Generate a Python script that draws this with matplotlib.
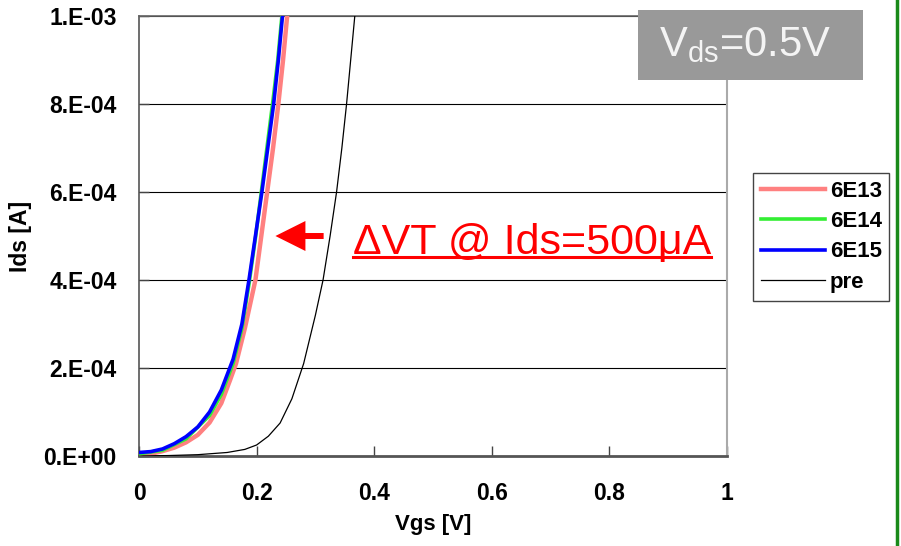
import matplotlib
matplotlib.use("Agg")
import matplotlib.pyplot as plt
from matplotlib.patches import Rectangle
from matplotlib.lines import Line2D

plt.rcParams['font.family'] = ['Liberation Sans', 'DejaVu Sans']
plt.rcParams['mathtext.fontset'] = 'custom'
plt.rcParams['mathtext.rm'] = 'Liberation Sans'
plt.rcParams['mathtext.it'] = 'Liberation Sans'

# Id-Vg curves (Vgs in V, Ids in A)
vg_6e13 = [0.000, 0.020, 0.040, 0.060, 0.080, 0.100, 0.120, 0.140, 0.155, 0.165, 0.180,
           0.198, 0.208, 0.218, 0.228, 0.237, 0.245, 0.252]
id_6e13 = [2e-6, 5e-6, 1.1e-5, 1.9e-5, 3.1e-5, 4.8e-5, 7.6e-5, 1.2e-4, 1.73e-4, 2.1e-4, 2.9e-4,
           4.0e-4, 5.0e-4, 6.0e-4, 7.0e-4, 8.0e-4, 9.0e-4, 1.0e-3]

vg_6e14 = [0.000, 0.040, 0.080, 0.120, 0.140, 0.160, 0.175, 0.187, 0.198, 0.208, 0.218,
           0.228, 0.236, 0.243]
id_6e14 = [5e-6, 1.3e-5, 3.9e-5, 9.2e-5, 1.4e-4, 2.1e-4, 2.9e-4, 3.9e-4, 4.95e-4, 6.0e-4, 7.05e-4,
           8.1e-4, 9.0e-4, 1.0e-3]

vg_6e15 = [0.000, 0.020, 0.040, 0.060, 0.080, 0.100, 0.120, 0.140, 0.160, 0.175, 0.187,
           0.198, 0.209, 0.219, 0.229, 0.237, 0.244]
id_6e15 = [8e-6, 1.0e-5, 1.6e-5, 2.8e-5, 4.4e-5, 6.6e-5, 1.0e-4, 1.5e-4, 2.2e-4, 3.0e-4, 4.0e-4,
           5.0e-4, 6.0e-4, 7.0e-4, 8.0e-4, 9.0e-4, 1.0e-3]

vg_pre = [0.000, 0.050, 0.100, 0.150, 0.180, 0.200, 0.220, 0.240, 0.260, 0.280, 0.300,
          0.313, 0.325, 0.336, 0.345, 0.353, 0.360, 0.367]
id_pre = [0, 1e-6, 3e-6, 8e-6, 1.5e-5, 2.5e-5, 4.5e-5, 7.5e-5, 1.3e-4, 2.1e-4, 3.2e-4,
          4.0e-4, 5.0e-4, 6.0e-4, 7.0e-4, 8.0e-4, 9.0e-4, 1.0e-3]

x_ticks = [0, 0.2, 0.4, 0.6, 0.8, 1]
x_ticklabels = ['0', '0.2', '0.4', '0.6', '0.8', '1']
y_ticks = [0, 2e-4, 4e-4, 6e-4, 8e-4, 1e-3]
y_ticklabels = ['0.E+00', '2.E-04', '4.E-04', '6.E-04', '8.E-04', '1.E-03']

target_id = 5e-4

fig = plt.figure(figsize=(9.01, 5.46), dpi=100)
ax = fig.add_axes([139 / 901, 90 / 546, 588 / 901, 440 / 546])

ax.plot(vg_6e13, id_6e13, color='#ff8080', lw=3.2, label='6E13', zorder=3)
ax.plot(vg_6e14, id_6e14, color='#33ee33', lw=2.6, label='6E14', zorder=4)
ax.plot(vg_6e15, id_6e15, color='#0000ff', lw=2.6, label='6E15', zorder=5)
ax.plot(vg_pre, id_pre, color='black', lw=0.9, label='pre', zorder=3)

ax.set_xlim(0, 1)
ax.set_ylim(0, 1e-3)
ax.set_xticks(x_ticks)
ax.set_xticklabels(x_ticklabels)
ax.set_yticks(y_ticks)
ax.set_yticklabels(y_ticklabels)
ax.grid(axis='y', color='black', lw=0.8)
ax.set_axisbelow(True)

ax.tick_params(axis='x', direction='in', length=7, width=1, color='#444444', pad=19,
               labelsize=16.5)
ax.tick_params(axis='y', direction='in', length=7, width=1, color='#444444', pad=16,
               labelsize=16.5)
for lab in ax.get_xticklabels() + ax.get_yticklabels():
    lab.set_fontweight('bold')

ax.spines['left'].set_color('#555555')
ax.spines['left'].set_linewidth(1.2)
ax.spines['bottom'].set_color('#555555')
ax.spines['bottom'].set_linewidth(2)
ax.spines['top'].set_color('#666666')
ax.spines['top'].set_linewidth(1.2)
ax.spines['right'].set_color('#aaaaaa')
ax.spines['right'].set_linewidth(1.5)

ax.set_xlabel('Vgs [V]', fontsize=16, fontweight='bold', labelpad=6)
ax.set_ylabel('Ids [A]', fontsize=16.5, fontweight='bold', labelpad=8)

# Shift annotation
ax.annotate('', xy=(0.232, target_id), xytext=(0.314, target_id),
            arrowprops=dict(arrowstyle='simple,head_length=2.16,head_width=2.16,tail_width=0.43',
                            mutation_scale=10, color='red', lw=0, shrinkA=0, shrinkB=0))
note = ax.text(0.364, 4.6e-4, 'ΔVT @ Ids=500μA', color='red', fontsize=31,
               ha='left', va='baseline')

leg = fig.legend(loc='upper left', bbox_to_anchor=(753 / 901, 1 - 173 / 546),
                 frameon=True, fancybox=False, edgecolor='#444444', framealpha=1,
                 prop={'weight': 'bold', 'size': 16}, handlelength=2.9,
                 handletextpad=0.2, labelspacing=0.42, borderpad=0.35,
                 borderaxespad=0)
leg.get_frame().set_linewidth(1)

# Bias condition box
fig.patches.append(Rectangle((638 / 901, 1 - 80 / 546), 225 / 901, 70 / 546,
                             transform=fig.transFigure, facecolor='#999999',
                             edgecolor='none', zorder=5))
fig.text(745 / 901, 1 - 45 / 546, r'V$_{\rm ds}$=0.5V', color='#f4f4f4', fontsize=30,
         ha='center', va='center', zorder=6)

# Green frame edge on the right
fig.add_artist(Line2D([897 / 901, 897 / 901], [0, 1], transform=fig.transFigure,
                      color='#1a8a1a', lw=2.5))

# Underline the annotation text
fig.canvas.draw()
bb = note.get_window_extent().transformed(fig.transFigure.inverted())
fig.add_artist(Line2D([bb.x0, bb.x1], [1 - 257 / 546, 1 - 257 / 546],
                      transform=fig.transFigure, color='red', lw=2.2))

fig.savefig('out.png', dpi=100)
